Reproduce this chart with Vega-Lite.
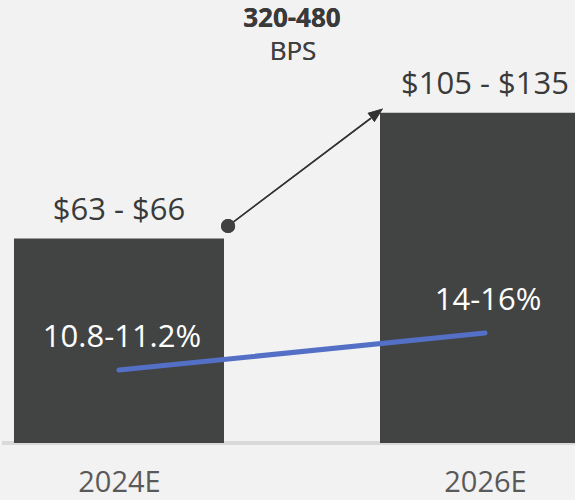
{
  "$schema": "https://vega.github.io/schema/vega-lite/v6.json",
  "width": 575,
  "height": 443,
  "padding": {"left": 0, "top": 0, "right": 0, "bottom": 6},
  "background": "#f2f2f2",
  "config": {"view": {"stroke": null}, "font": "Open Sans"},
  "data": {"values": [
    {"year": 2024, "value": 66, "label": "$63 - $66", "margin": 11.0, "margin_label": "10.8-11.2%"},
    {"year": 2026, "value": 106.6, "label": "$105 - $135", "margin": 15.0, "margin_label": "14-16%"}
  ]},
  "encoding": {
    "x": {"field": "year", "type": "quantitative",
      "scale": {"domain": [2023.3607, 2026.5027], "nice": false, "zero": false, "padding": 0},
      "axis": {"values": [2024, 2026], "labelExpr": "datum.value + 'E'", "title": null, "domain": false, "ticks": false, "grid": false,
        "labelFontSize": 29, "labelColor": "#595959", "labelPadding": 25, "labelFont": "Open Sans"}}
  },
  "resolve": {"scale": {"y": "independent"}},
  "layer": [
    {"mark": {"type": "rule", "color": "#d9d9d9", "strokeWidth": 4},
     "encoding": {"x": null, "y": {"datum": 0, "type": "quantitative", "scale": {"domain": [0, 143], "padding": 0}, "axis": null}}},
    {"mark": {"type": "bar", "width": 210, "color": "#424443", "clip": true},
     "encoding": {"y": {"field": "value", "type": "quantitative", "scale": {"domain": [0, 143], "padding": 0}, "axis": null}}},
    {"mark": {"type": "text", "fontSize": 31, "color": "#3a3a3a", "baseline": "middle", "dy": -27.5},
     "encoding": {"y": {"field": "value", "type": "quantitative", "scale": {"domain": [0, 143], "padding": 0}, "axis": null}, "text": {"field": "label"}}},
    {"mark": {"type": "line", "color": "#5470c6", "strokeWidth": 5, "strokeCap": "round"},
     "encoding": {"y": {"field": "margin", "type": "quantitative", "scale": {"domain": [3.11, 51.0], "zero": false, "nice": false, "padding": 0}, "axis": null}}},
    {"mark": {"type": "text", "fontSize": 31, "color": "#ffffff", "baseline": "middle", "dy": -32, "dx": 3},
     "encoding": {"y": {"field": "margin", "type": "quantitative", "scale": {"domain": [3.11, 51.0], "zero": false, "nice": false, "padding": 0}, "axis": null}, "text": {"field": "margin_label"}}},
    {"mark": {"type": "rule", "color": "#333333", "strokeWidth": 1.5},
     "encoding": {"x": {"datum": 2024.596, "type": "quantitative"}, "x2": {"datum": 2025.377},
       "y": {"datum": 70.04, "type": "quantitative", "scale": {"domain": [0, 143], "padding": 0}, "axis": null}, "y2": {"datum": 104.9}}},
    {"mark": {"type": "point", "shape": "circle", "filled": true, "size": 200, "color": "#404040", "opacity": 1},
     "encoding": {"x": {"datum": 2024.596, "type": "quantitative"},
       "y": {"datum": 70.04, "type": "quantitative", "scale": {"domain": [0, 143], "padding": 0}, "axis": null}}},
    {"mark": {"type": "point", "shape": "M-0.75,1H0.75L0,-1Z", "filled": true, "size": 225, "angle": 53, "color": "#333333", "opacity": 1},
     "encoding": {"x": {"datum": 2025.41, "type": "quantitative"},
       "y": {"datum": 106.5, "type": "quantitative", "scale": {"domain": [0, 143], "padding": 0}, "axis": null}}},
    {"mark": {"type": "text", "fontSize": 26, "fontWeight": "bold", "color": "#3a3a3a", "baseline": "middle"},
     "encoding": {"x": {"datum": 2024.945, "type": "quantitative"},
       "y": {"datum": 137.0, "type": "quantitative", "scale": {"domain": [0, 143], "padding": 0}, "axis": null}, "text": {"value": "320-480"}}},
    {"mark": {"type": "text", "fontSize": 26, "color": "#404040", "baseline": "middle"},
     "encoding": {"x": {"datum": 2024.951, "type": "quantitative"},
       "y": {"datum": 126.3, "type": "quantitative", "scale": {"domain": [0, 143], "padding": 0}, "axis": null}, "text": {"value": "BPS"}}}
  ]
}
